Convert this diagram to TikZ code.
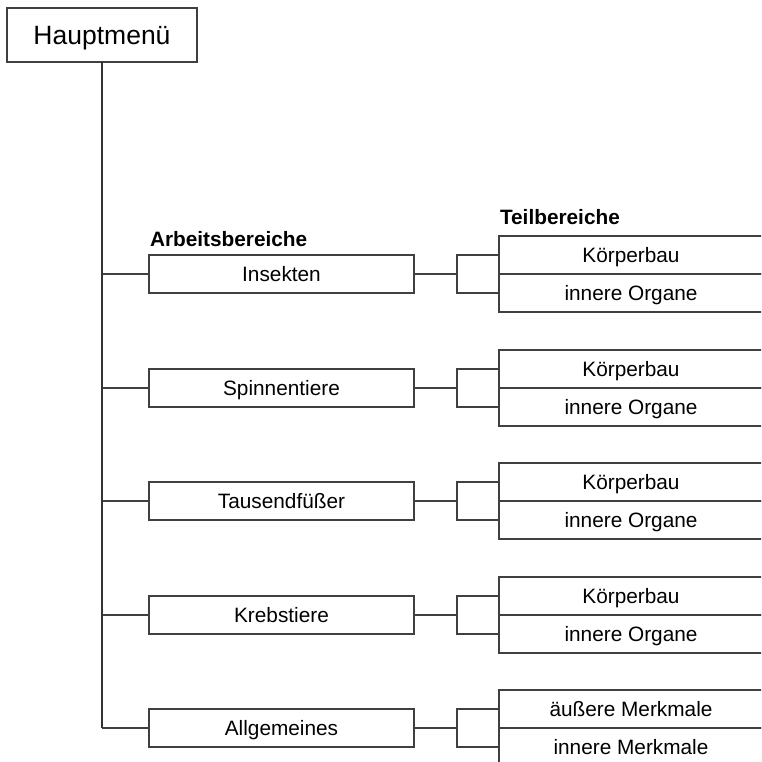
\documentclass[tikz,border=0pt]{standalone}
\usepackage{fontspec}
\setmainfont{Liberation Sans}
\begin{document}
\begin{tikzpicture}[x=1pt,y=-1pt,
  every node/.style={inner sep=0pt,outer sep=0pt,font=\fontsize{20.8}{24}\selectfont},
  mainbox/.style={draw=black!75,line width=1.4pt,minimum width=190pt,minimum height=54pt,
    text height=23pt,text depth=3pt,font=\fontsize{26.5}{30}\selectfont},
  areabox/.style={draw=black!75,line width=1.3pt,minimum width=265pt,minimum height=38pt,
    text height=17.5pt,text depth=3pt},
  subbox/.style={draw=black!75,line width=1.3pt,minimum width=264pt,minimum height=38pt,
    text height=17.5pt,text depth=3pt},
  heading/.style={anchor=base west,font=\fontsize{20.8}{24}\selectfont\bfseries},
  trunk/.style={draw=black!80,line width=1.8pt},
  conn/.style={draw=black!75,line width=1.3pt}]
\useasboundingbox (0,0) rectangle (761,762);
\clip (0,0) rectangle (761,762);
\fill[white] (0,0) rectangle (761,762);

\node[mainbox] (haupt) at (102,35) {Hauptmenü};

\node[heading] (hArb) at (150,246) {Arbeitsbereiche};
\node[heading] (hTeil) at (500,224) {Teilbereiche};

\foreach \i/\y/\name/\ta/\tb in {1/274/Insekten/Körperbau/innere Organe,
                                 2/388/Spinnentiere/Körperbau/innere Organe,
                                 3/501/Tausendfüßer/Körperbau/innere Organe,
                                 4/615/Krebstiere/Körperbau/innere Organe,
                                 5/728/Allgemeines/äußere Merkmale/innere Merkmale}{
  \node[areabox] (r\i) at (281.5,\y) {\name};
  \node[subbox] (ta\i) at (631,\y-19) {\ta};
  \node[subbox] (tb\i) at (631,\y+19) {\tb};
  \coordinate (b\i) at (457,\y);
  \draw[conn] (r\i.east) -- (b\i);
  \draw[conn] (ta\i.west) -| (b\i) |- (tb\i.west);
  \draw[conn] (haupt.south |- r\i.west) -- (r\i.west);
}
\draw[trunk] (haupt.south) -- (haupt.south |- r5.west);
\end{tikzpicture}
\end{document}
